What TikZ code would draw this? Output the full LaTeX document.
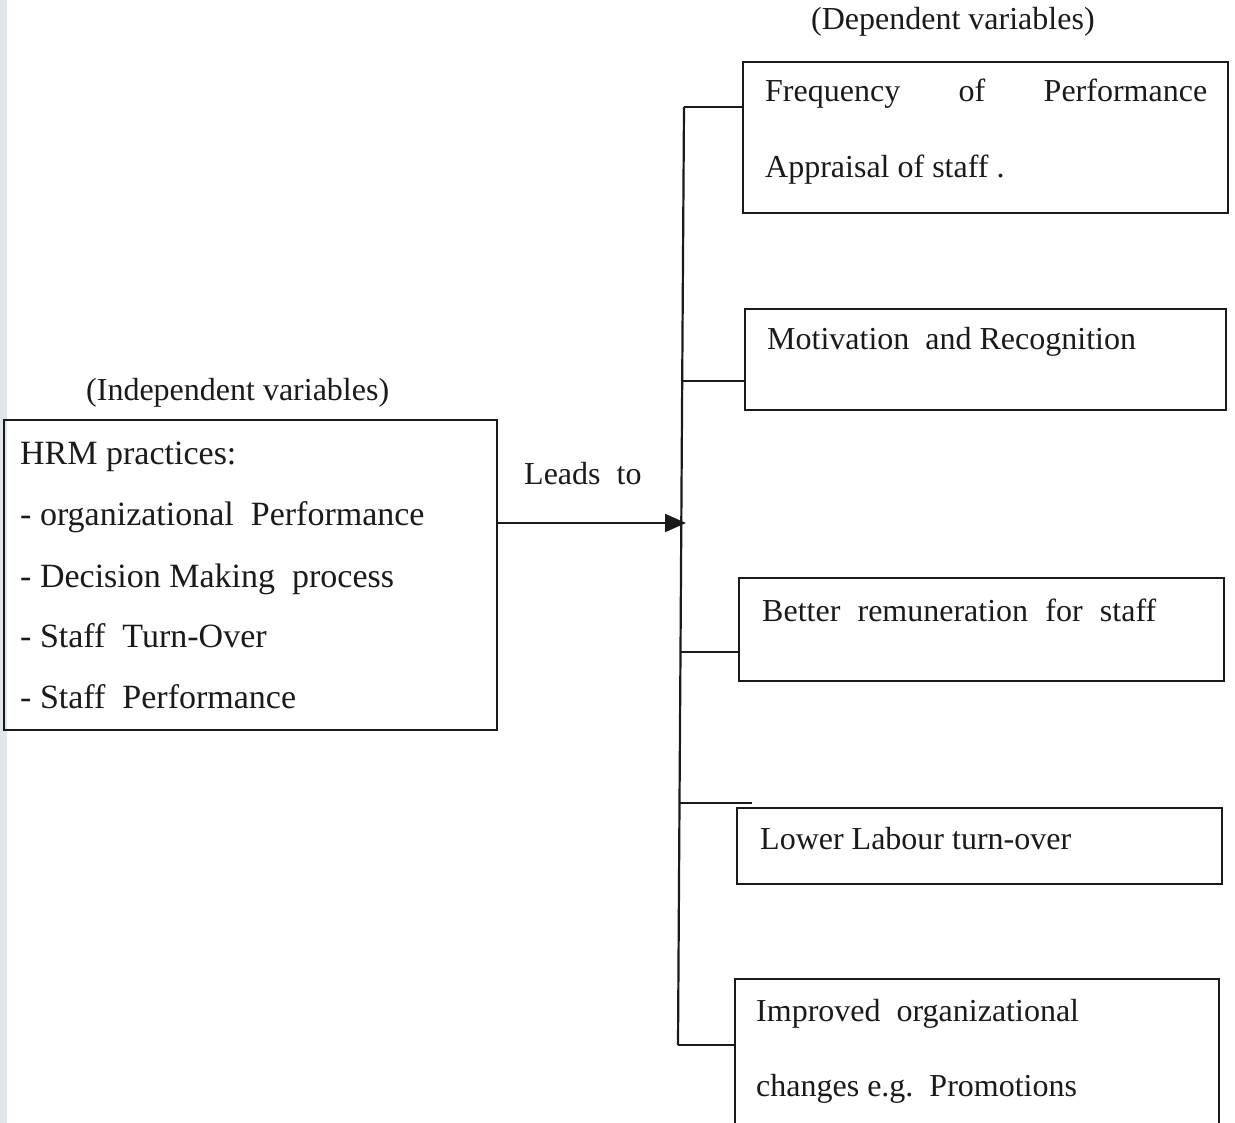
\documentclass[tikz,border=0pt]{standalone}
\usepackage{fontspec}
\setmainfont{Liberation Serif}
\usetikzlibrary{arrows.meta}
\definecolor{ink}{HTML}{1A1A1A}
\definecolor{scanstrip}{HTML}{E2E6EC}
\begin{document}
\begin{tikzpicture}[x=1pt,y=-1pt,
  box/.style={draw=ink,line width=2.2pt,inner sep=0pt},
  txt/.style={font=\fontsize{32}{38}\selectfont,text=ink,inner sep=0pt,anchor=base west},
  ltxt/.style={font=\fontsize{34}{40}\selectfont,text=ink,inner sep=0pt,anchor=base west},
  wire/.style={draw=ink,line width=2.2pt},
  arr/.style={draw=ink,line width=2.2pt,-{Triangle[length=21pt,width=18pt]}}]
\useasboundingbox (0,0) rectangle (1235,1123);
\fill[white] (0,0) rectangle (1235,1123);
\fill[scanstrip] (0,0) rectangle (7,1123);
\begin{scope}
\clip (0,0) rectangle (1235,1123);
% left box
\node[box,minimum width=493pt,minimum height=310pt] (hrm) at (250.5,575) {};
\node[ltxt] (h0) at (20,464) {HRM practices:};
\node[ltxt] (h1) at (20,525) {- organizational\ \ Performance};
\node[ltxt] (h2) at (20,587) {- Decision Making\ \ process};
\node[ltxt] (h3) at (20,647) {- Staff\ \ Turn-Over};
\node[ltxt] (h4) at (20,708) {- Staff\ \ Performance};
\node[txt] (indep) at (86,401) {(Independent variables)};
\node[txt] (dep) at (811,30) {(Dependent variables)};
\node[txt] (leads) at (524,484) {Leads\ \ to};
% right boxes
\node[box,minimum width=485pt,minimum height=151pt] (b1) at (985.5,137.5) {};
\node[box,minimum width=481pt,minimum height=101pt] (b2) at (985.5,359.5) {};
\node[box,minimum width=485pt,minimum height=103pt] (b3) at (981.5,629.5) {};
\node[box,minimum width=485pt,minimum height=76pt] (b4) at (979.5,846) {};
\node[box,minimum width=484pt,minimum height=170pt] (b5) at (977,1064) {};
\node[txt] (t1a) at (765,102) {\makebox[442pt][l]{Frequency\hfill of\hfill Performance}};
\node[txt] (t1b) at (765,178) {Appraisal of staff .};
\node[txt] (t2) at (767,350) {Motivation\ \ and Recognition};
\node[txt] (t3) at (762,621) {\makebox[394pt][l]{Better\hfill remuneration\hfill for\hfill staff}};
\node[txt] (t4) at (760,849) {Lower Labour turn-over};
\node[txt] (t5a) at (756,1021) {Improved\ \ organizational};
\node[txt] (t5b) at (756,1096) {changes e.g.\ \ Promotions};
% bus
\coordinate (j1) at (684,107);
\coordinate (j2) at (682.2,381);
\coordinate (ja) at (681.3,523);
\coordinate (j3) at (680.5,652);
\coordinate (j4) at (679.5,803);
\coordinate (j5) at (678,1045);
\coordinate (atip) at (686,523);
\coordinate (e4) at (752,803);
\draw[wire] (j1) -- (j2) -- (ja) -- (j3) -- (j4) -- (j5);
\draw[wire] (j1) -- (j1 -| b1.west);
\draw[wire] (j2) -- (j2 -| b2.west);
\draw[wire] (j3) -- (j3 -| b3.west);
\draw[wire] (j4) -- (e4);
\draw[wire] (j5) -- (j5 -| b5.west);
\draw[arr] (hrm.east |- ja) -- (atip);
\end{scope}
\end{tikzpicture}
\end{document}
